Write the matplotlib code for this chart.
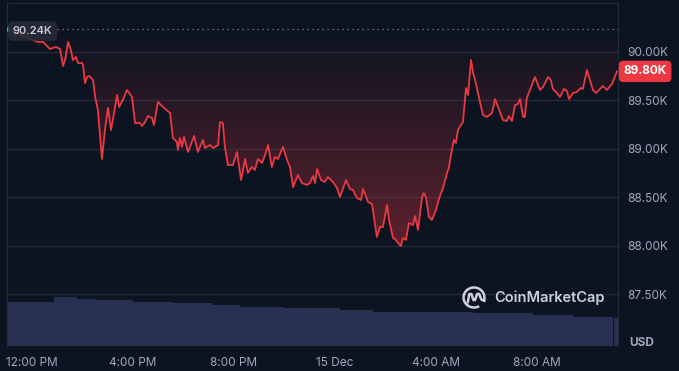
import numpy as np
import matplotlib
matplotlib.use('Agg')
import matplotlib.pyplot as plt
from matplotlib.patches import Arc
from matplotlib.transforms import blended_transform_factory

# BTC price, hours counted from 14 Dec 00:00
hours = [11.05, 11.6, 12.24, 12.44, 12.71, 12.83, 12.95, 13.11, 13.23, 13.31, 13.43, 13.54,
         13.62, 13.74, 13.82, 13.98, 14.02, 14.10, 14.18, 14.26, 14.42, 14.50, 14.61, 14.77,
         14.89, 15.01, 15.13, 15.25, 15.37, 15.45, 15.60, 15.76, 15.96, 16.08, 16.28, 16.36,
         16.48, 16.59, 16.75, 16.83, 16.99, 17.19, 17.47, 17.58, 17.74, 17.78, 17.86, 17.94,
         18.02, 18.18, 18.42, 18.57, 18.77, 18.85, 19.05, 19.17, 19.37, 19.45, 19.56, 19.64,
         19.76, 19.96, 20.12, 20.28, 20.44, 20.55, 20.71, 20.83, 20.95, 21.11, 21.23, 21.35,
         21.50, 21.62, 21.74, 21.94, 22.10, 22.22, 22.34, 22.53, 22.69, 22.89, 23.01, 23.13,
         23.21, 23.29, 23.45, 23.60, 23.72, 23.92, 24.08, 24.20, 24.44, 24.59, 24.71, 24.87,
         25.03, 25.11, 25.31, 25.47, 25.66, 25.78, 25.90, 26.06, 26.14, 26.30, 26.38, 26.50,
         26.61, 26.69, 26.81, 26.93, 27.09, 27.17, 27.29, 27.45, 27.52, 27.60, 27.72, 27.84,
         28.00, 28.12, 28.28, 28.44, 28.51, 28.63, 28.71, 28.79, 28.87, 28.99, 29.07, 29.19,
         29.27, 29.39, 29.47, 29.58, 29.70, 29.86, 30.02, 30.22, 30.34, 30.46, 30.65, 30.81,
         30.89, 31.01, 31.13, 31.25, 31.33, 31.45, 31.52, 31.60, 31.80, 31.92, 32.12, 32.24,
         32.44, 32.55, 32.63, 32.79, 32.91, 33.07, 33.19, 33.27, 33.43, 33.58, 33.74, 33.82,
         33.98, 34.06, 34.22, 34.34, 34.50, 34.61, 34.77, 34.97, 35.17]
prices = [90237, 90170, 90103, 90103, 90031, 90041, 90052, 90031, 89856, 89918, 90103, 90021,
          89918, 89948, 89887, 89887, 89866, 89680, 89742, 89753, 89711, 89536, 89402, 88897,
          89196, 89423, 89196, 89371, 89557, 89433, 89505, 89608, 89536, 89268, 89268, 89237,
          89278, 89340, 89320, 89247, 89485, 89433, 89371, 89113, 89072, 88990, 89113, 89021,
          89124, 88969, 89134, 88969, 89093, 89010, 89041, 89010, 89041, 89278, 89268, 89021,
          88835, 88835, 88969, 88680, 88897, 88753, 88814, 88784, 88897, 88856, 88938, 89041,
          88814, 88918, 88897, 89021, 88887, 88814, 88608, 88732, 88649, 88629, 88649, 88722,
          88649, 88794, 88680, 88660, 88711, 88660, 88598, 88505, 88680, 88588, 88577, 88495,
          88474, 88588, 88454, 88433, 88093, 88196, 88196, 88423, 88268, 88082, 88072, 88031,
          88000, 88082, 88062, 88237, 88216, 88309, 88165, 88505, 88546, 88505, 88299, 88268,
          88371, 88485, 88598, 88753, 88804, 88990, 89093, 89062, 89196, 89247, 89278, 89629,
          89557, 89918, 89784, 89680, 89536, 89351, 89330, 89371, 89515, 89433, 89299, 89289,
          89340, 89289, 89454, 89464, 89515, 89330, 89330, 89526, 89660, 89742, 89608, 89639,
          89742, 89711, 89619, 89577, 89536, 89619, 89598, 89515, 89577, 89588, 89629, 89619,
          89814, 89742, 89608, 89577, 89619, 89649, 89608, 89670, 89800]

# 24h volume (B USD), step edges in hours
vol_edges = [11.01, 12.87, 13.78, 14.57, 16.0, 17.58, 19.17, 20.24, 21.94, 24.20, 25.50,
             29.47, 31.84, 33.43, 35.01, 35.05, 35.21]
volumes = [44, 49, 47, 46, 44, 43, 41, 39, 38, 36, 34, 33, 31, 29, 0, 28]

open_price = 90240
last_price = 89800
y_ticks = [87500, 88000, 88500, 89000, 89500, 90000]
x_ticks = [12, 16, 20, 24, 28, 32]
x_labels = ['12:00 PM', '4:00 PM', '8:00 PM', '15 Dec', '4:00 AM', '8:00 AM']

bg = '#0d1421'
grid = '#262b3a'
gray = '#a1a7bb'
red = '#ea3943'

plt.rcParams['font.family'] = ['Inter', 'DejaVu Sans']

fig = plt.figure(figsize=(6.79, 3.71), dpi=100, facecolor=bg)
rect = [7 / 679, 25 / 371, 611 / 679, 343 / 371]
x0, x1 = 11.01, 35.21

# volume underneath
axv = fig.add_axes(rect)
axv.set_facecolor(bg)
axv.stairs(volumes, vol_edges, fill=True, color='#283152')
axv.set_xlim(x0, x1)
axv.set_ylim(0, max(volumes) * 7.0)
axv.axis('off')

ax = fig.add_axes(rect)
ax.patch.set_alpha(0)
ax.set_xlim(x0, x1)

# gradient fill between price and open
poly = ax.fill_between(hours, prices, open_price, color='none', lw=0)
grad = np.linspace(0, 1, 256).reshape(-1, 1)
rgba = np.zeros((256, 1, 4))
rgba[..., 0], rgba[..., 1], rgba[..., 2] = 0.918, 0.224, 0.263
rgba[..., 3] = 0.36 * (1 - grad)
im = ax.imshow(rgba, extent=[x0, x1, 88000, open_price], origin='lower',
               aspect='auto', zorder=2)
im.set_clip_path(poly.get_paths()[0], transform=ax.transData)
ax.set_ylim(86969, 90505)

ax.plot(hours, prices, color=red, lw=1.3, zorder=4)
ax.axhline(open_price, color=gray, lw=0.9, ls=(0, (1, 3)), alpha=0.8, zorder=3)
ax.plot(hours[0], open_price, 'o', ms=2.5, color='#16c784', zorder=5)

ax.set_yticks(y_ticks)
ax.set_yticklabels([f'{v / 1000:.2f}K' for v in y_ticks])
ax.yaxis.tick_right()
ax.set_xticks(x_ticks)
ax.set_xticklabels(x_labels)
ax.tick_params(length=0, colors=gray, labelsize=8.5)
ax.tick_params(axis='y', pad=7)
ax.tick_params(axis='x', pad=8)
ax.grid(axis='y', color=grid, lw=0.9)
for s in ['left', 'right', 'top']:
    ax.spines[s].set_color(grid)
ax.spines['bottom'].set_visible(False)

tr = blended_transform_factory(ax.transAxes, ax.transData)
ax.text(0.042, open_price - 25, f'{open_price / 1000:.2f}K', transform=tr, ha='center',
        va='center', color='#c4c8d4', fontsize=8, fontweight='semibold', zorder=6,
        bbox=dict(boxstyle='round,pad=0.42', fc='#272b37', ec='none', alpha=0.9))
ax.text(1.009, last_price, f'{last_price / 1000:.2f}K', transform=tr, ha='left',
        va='center', color='white', fontsize=8.5, fontweight='bold', zorder=6,
        bbox=dict(boxstyle='round,pad=0.4', fc=red, ec='none'), clip_on=False)

fig.text(642 / 679, 1 - 343 / 371, 'USD', ha='center', va='center', color=gray,
         fontsize=8.5, fontweight='bold')

# watermark
wm = '#e3e6ee'
fig.text(494 / 679, 1 - 298 / 371, 'CoinMarketCap', ha='left', va='center', color=wm,
         fontsize=10.5, fontweight='semibold', alpha=0.9)
axl = fig.add_axes([462 / 679, 1 - 309 / 371, 24 / 679, 23 / 371])
axl.set_xlim(-1.15, 1.15)
axl.set_ylim(-1.15, 1.15)
axl.axis('off')
axl.add_patch(Arc((0, 0), 2, 2, theta1=-20, theta2=300, color=wm, lw=1.8, alpha=0.9))
axl.plot([-0.6, -0.45, -0.25, -0.05, 0.1, 0.3, 0.5, 0.7, 1.0],
         [-0.5, 0.35, 0.35, -0.25, -0.25, 0.35, 0.35, -0.2, -0.35],
         color=wm, lw=1.8, alpha=0.9, solid_capstyle='round', solid_joinstyle='round')

fig.savefig('out.png', dpi=100, facecolor=bg)
